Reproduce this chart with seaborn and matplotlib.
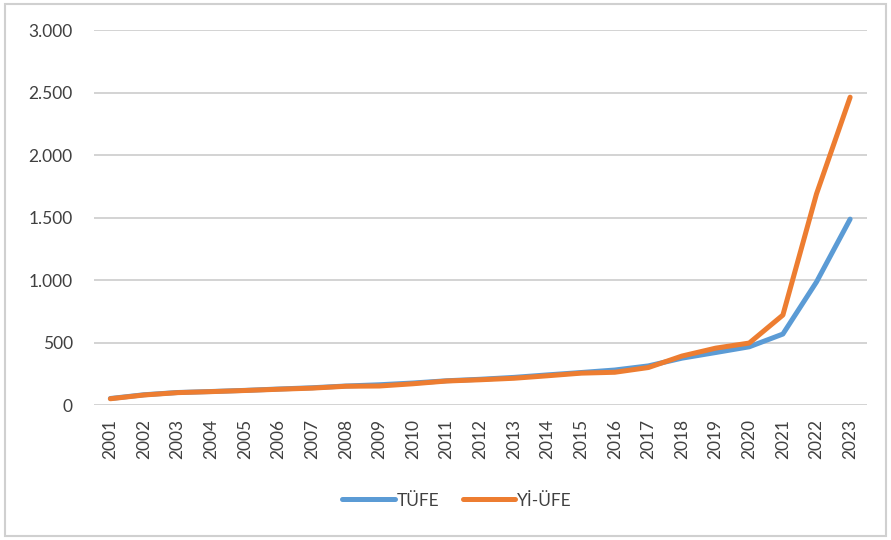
import numpy as np
import pandas as pd
import seaborn as sns
import matplotlib.pyplot as plt
from matplotlib.ticker import FuncFormatter
from matplotlib.patches import Rectangle

years = list(range(2001, 2024))
tufe = [52, 82, 100, 108, 117, 128, 138, 152, 162, 176, 194, 206, 221, 241, 260, 280, 313, 375, 420, 466, 568, 985, 1488]
yi_ufe = [50, 80, 99, 107, 116, 126, 135, 150, 152, 170, 192, 202, 214, 234, 255, 262, 300, 392, 455, 496, 720, 1690, 2464]

df = pd.DataFrame({
    "year": years * 2,
    "value": tufe + yi_ufe,
    "series": ["TÜFE"] * len(years) + ["Yİ-ÜFE"] * len(years),
})

sns.set_style("white")
plt.rcParams["font.family"] = ["Lato", "DejaVu Sans"]

fig = plt.figure(figsize=(8.91, 5.4), dpi=100)
ax = fig.add_axes([0.105, 0.25, 0.868, 0.694])

sns.lineplot(data=df, x="year", y="value", hue="series",
             palette={"TÜFE": "#5B9BD5", "Yİ-ÜFE": "#ED7D31"},
             linewidth=3.6, ax=ax, legend=True)

ax.set_xlim(2000.5, 2023.5)
ax.set_ylim(0, 3000)
ax.set_xticks(years)
ax.set_xticklabels([str(y) for y in years], rotation=90, fontsize=12.5, color="#404040")
ax.set_yticks(range(0, 3001, 500))
ax.yaxis.set_major_formatter(FuncFormatter(lambda v, p: f"{int(v):,}".replace(",", ".")))
ax.tick_params(axis="y", labelsize=12.5, colors="#404040", length=0, pad=15)
ax.tick_params(axis="x", length=0, pad=10)
ax.grid(axis="y", color="#d0d0d0", linewidth=1.3)
ax.set_axisbelow(True)
for s in ax.spines.values():
    s.set_visible(False)
ax.set_xlabel("")
ax.set_ylabel("")

handles, labels = ax.get_legend_handles_labels()
ax.legend(handles, labels, loc="center", bbox_to_anchor=(0.47, -0.255), ncol=2,
          frameon=False, fontsize=12.5, handlelength=3.0, handletextpad=0.1,
          columnspacing=1.4, labelcolor="#404040")

fig.patches.append(Rectangle((0.006, 0.008), 0.988, 0.985, transform=fig.transFigure,
                             fill=False, edgecolor="#d0d0d0", linewidth=1.5))

fig.savefig("out.png", dpi=100)
